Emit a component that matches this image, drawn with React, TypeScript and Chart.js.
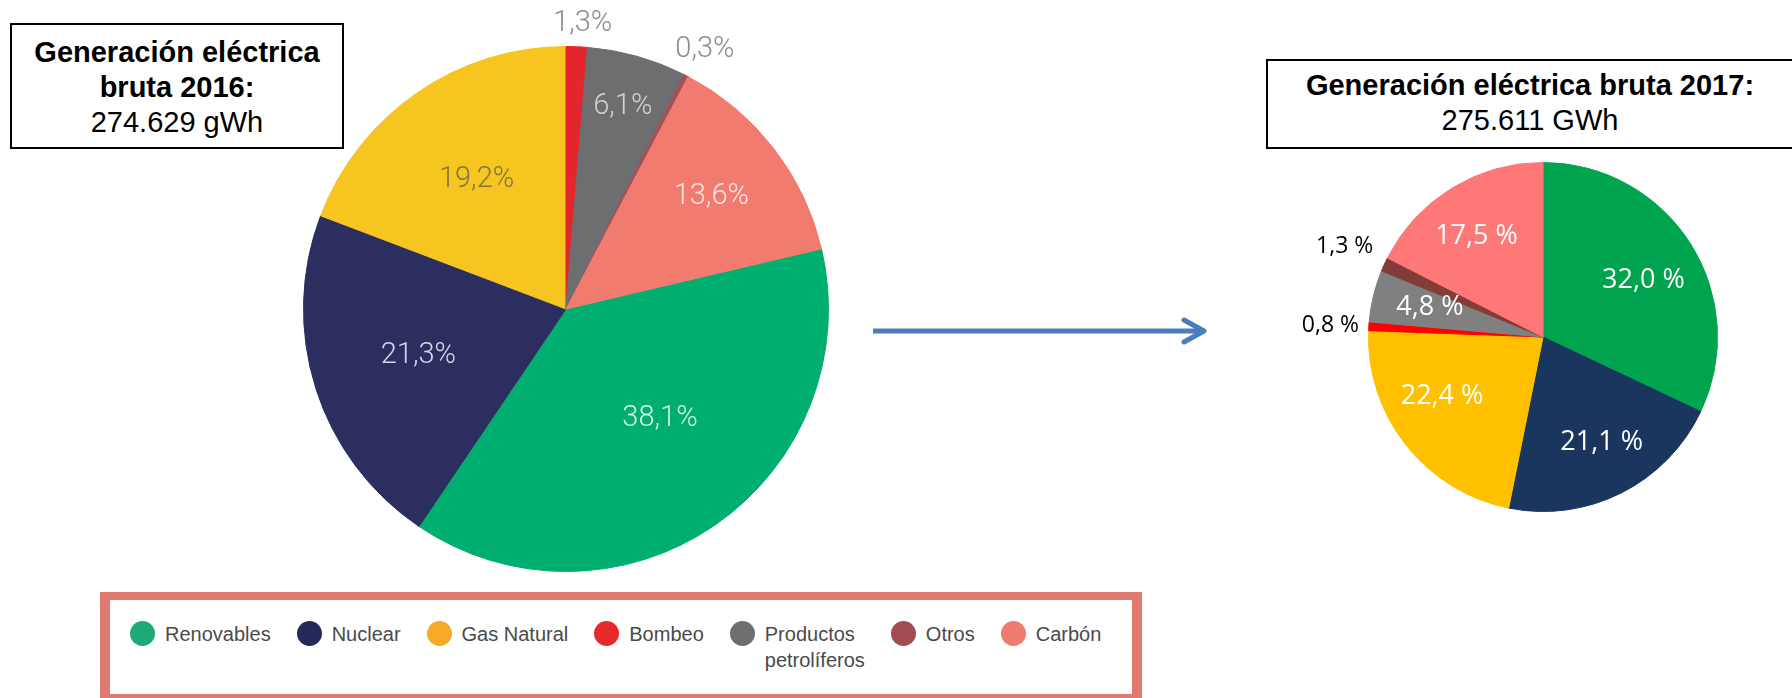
import React, { useEffect, useRef } from "react";
import { Chart, registerables } from "chart.js";

Chart.register(...registerables);

// ---------- data ----------
const categories = ["Renovables", "Nuclear", "Gas Natural", "Bombeo", "Productos petrolíferos", "Otros", "Carbón"];
const legendLines = [["Renovables"], ["Nuclear"], ["Gas Natural"], ["Bombeo"], ["Productos", "petrolíferos"], ["Otros"], ["Carbón"]];
const values2016 = [38.1, 21.3, 19.2, 1.3, 6.1, 0.3, 13.6];
const values2017 = [32.0, 21.1, 22.4, 0.8, 4.8, 1.3, 17.5];
const title2016 = ["Generación eléctrica", "bruta 2016:"];
const total2016 = "274.629 gWh";
const title2017 = "Generación eléctrica bruta 2017:";
const total2017 = "275.611 GWh";

// ---------- styles ----------
const colors2016 = ["#00AF6F", "#2B2E5F", "#F6C520", "#E3262B", "#6C6E70", "#A2505A", "#F27B70"];
const colors2017 = ["#00A44E", "#1B365E", "#FFC000", "#FF0000", "#808080", "#843C39", "#FF7878"];
const legendColors = ["#1DAA74", "#232A5A", "#F7A928", "#E8292B", "#6E6E6E", "#A04C52", "#F07A6E"];

const labelColors2016 = ["#D4EFE0", "#D5D6E6", "#85763F", "#8C8C8C", "#D2D2D2", "#8C8C8C", "#FBE3DF"];
const labelRadii2016 = [0.55, 0.59, 0.6, 1.09, 0.8, 1.12, 0.7];
const labelShift2016 = [-6, 0, 0, 1, 0, 1, 0];

const labelColors2017 = ["#FFFFFF", "#FFFFFF", "#FFFFFF", "#000000", "#FFFFFF", "#000000", "#FFFFFF"];
const labelRadii2017 = [0.66, 0.69, 0.67, 1.22, 0.67, 1.25, 0.69];
const labelShift2017 = [3, -2.5, 8, -0.5, 1, 0, -2];
const labelSizes2017 = [27, 27, 27, 23, 27, 23, 27];

const fmt2016 = (v: number) => v.toFixed(1).replace(".", ",") + "%";
const fmt2017 = (v: number) => v.toFixed(1).replace(".", ",") + " %";

function makeLabelPlugin(cfg: {
  id: string;
  values: number[];
  fmt: (v: number) => string;
  colors: string[];
  radii: number[];
  shifts: number[];
  font: (i: number) => string;
}) {
  return {
    id: cfg.id,
    afterDatasetsDraw(chart: any) {
      const ctx = chart.ctx;
      const meta = chart.getDatasetMeta(0);
      ctx.save();
      ctx.textAlign = "center";
      ctx.textBaseline = "middle";
      meta.data.forEach((arc: any, i: number) => {
        const p = arc.getProps(["x", "y", "startAngle", "endAngle", "outerRadius"], true);
        const mid = (p.startAngle + p.endAngle) / 2 + (cfg.shifts[i] * Math.PI) / 180;
        const r = p.outerRadius * cfg.radii[i];
        ctx.font = cfg.font(i);
        ctx.fillStyle = cfg.colors[i];
        ctx.fillText(cfg.fmt(cfg.values[i]), p.x + Math.cos(mid) * r, p.y + Math.sin(mid) * r);
      });
      ctx.restore();
    },
  };
}

export default function App() {
  const leftRef = useRef<HTMLCanvasElement>(null);
  const rightRef = useRef<HTMLCanvasElement>(null);

  useEffect(() => {
    const total16 = values2016.reduce((a, b) => a + b, 0);
    const firstThree = values2016[0] + values2016[1] + values2016[2];
    const rotation16 = 360 - (firstThree / total16) * 360;

    const left = new Chart(leftRef.current!, {
      type: "pie",
      data: {
        labels: categories,
        datasets: [
          {
            data: values2016,
            backgroundColor: colors2016,
            borderColor: colors2016,
            borderWidth: 1,
          },
        ],
      },
      options: {
        responsive: false,
        animation: false,
        rotation: rotation16,
        layout: { padding: { left: 67, right: 67, top: 46, bottom: 46 } },
        plugins: { legend: { display: false }, tooltip: { enabled: false } },
      },
      plugins: [
        makeLabelPlugin({
          id: "labels2016",
          values: values2016,
          fmt: fmt2016,
          colors: labelColors2016,
          radii: labelRadii2016,
          shifts: labelShift2016,
          font: () => '300 29px Roboto, "Liberation Sans", sans-serif',
        }),
      ],
    } as any);

    const right = new Chart(rightRef.current!, {
      type: "pie",
      data: {
        labels: categories,
        datasets: [
          {
            data: values2017,
            backgroundColor: colors2017,
            borderColor: colors2017,
            borderWidth: 1,
          },
        ],
      },
      options: {
        responsive: false,
        animation: false,
        rotation: 0,
        layout: { padding: { left: 88, right: 88, top: 12, bottom: 12 } },
        plugins: { legend: { display: false }, tooltip: { enabled: false } },
      },
      plugins: [
        makeLabelPlugin({
          id: "labels2017",
          values: values2017,
          fmt: fmt2017,
          colors: labelColors2017,
          radii: labelRadii2017,
          shifts: labelShift2017,
          font: (i: number) => `${labelSizes2017[i]}px "Open Sans", "Noto Sans", sans-serif`,
        }),
      ],
    } as any);

    let alive = true;
    if ((document as any).fonts && (document as any).fonts.ready) {
      (document as any).fonts.ready.then(() => {
        if (alive) {
          left.update();
          right.update();
        }
      });
    }

    return () => {
      alive = false;
      left.destroy();
      right.destroy();
    };
  }, []);

  const boxFont = '"Liberation Sans", Arial, sans-serif';

  return (
    <div
      style={{
        position: "fixed",
        left: 0,
        top: 0,
        width: 1792,
        height: 698,
        overflow: "hidden",
        background: "#FFFFFF",
        fontFamily: boxFont,
      }}
    >
      {/* 2016 title box */}
      <div
        style={{
          position: "absolute",
          left: 10,
          top: 23,
          width: 334,
          height: 126,
          boxSizing: "border-box",
          border: "2px solid #000",
          background: "#fff",
          textAlign: "center",
          fontSize: 29,
          lineHeight: "35px",
          paddingTop: 10,
          color: "#000",
        }}
      >
        <div style={{ fontWeight: 700 }}>{title2016[0]}</div>
        <div style={{ fontWeight: 700 }}>{title2016[1]}</div>
        <div>{total2016}</div>
      </div>

      {/* 2016 pie */}
      <canvas
        ref={leftRef}
        width={660}
        height={618}
        style={{ position: "absolute", left: 236, top: 0, width: 660, height: 618 }}
      />

      {/* arrow */}
      <svg
        width={1792}
        height={698}
        style={{ position: "absolute", left: 0, top: 0, pointerEvents: "none" }}
      >
        <line x1={873} y1={331} x2={1203} y2={331} stroke="#4A7EBB" strokeWidth={5} />
        <polyline
          points="1184,320 1204,331 1184,342"
          fill="none"
          stroke="#4A7EBB"
          strokeWidth={5}
          strokeLinecap="round"
          strokeLinejoin="round"
        />
      </svg>

      {/* 2017 title box */}
      <div
        style={{
          position: "absolute",
          left: 1266,
          top: 59,
          width: 540,
          height: 90,
          boxSizing: "border-box",
          border: "2px solid #000",
          background: "#fff",
          color: "#000",
          fontSize: 29,
          lineHeight: "35px",
          paddingTop: 7,
        }}
      >
        <div style={{ width: 524, textAlign: "center", fontWeight: 700 }}>{title2017}</div>
        <div style={{ width: 524, textAlign: "center" }}>{total2017}</div>
      </div>

      {/* 2017 pie */}
      <canvas
        ref={rightRef}
        width={526}
        height={374}
        style={{ position: "absolute", left: 1280, top: 150, width: 526, height: 374 }}
      />

      {/* legend */}
      <div
        style={{
          position: "absolute",
          left: 100,
          top: 592,
          width: 1042,
          height: 110,
          boxSizing: "border-box",
          borderStyle: "solid",
          borderColor: "#E07A6E",
          borderWidth: "8px 10px",
          background: "#fff",
          display: "flex",
          alignItems: "flex-start",
          paddingLeft: 20,
          paddingTop: 21,
          fontFamily: '"Liberation Sans", Arial, sans-serif',
          fontSize: 20,
          color: "#4A4A4A",
        }}
      >
        {categories.map((c, i) => (
          <div key={c} style={{ display: "flex", alignItems: "flex-start", marginRight: i === 6 ? 0 : 26 }}>
            <div
              style={{
                width: 25,
                height: 25,
                borderRadius: "50%",
                background: legendColors[i],
                flex: "0 0 auto",
              }}
            />
            <div style={{ marginLeft: 10, lineHeight: "26px" }}>
              {legendLines[i].map((l) => (
                <div key={l}>{l}</div>
              ))}
            </div>
          </div>
        ))}
      </div>
    </div>
  );
}
